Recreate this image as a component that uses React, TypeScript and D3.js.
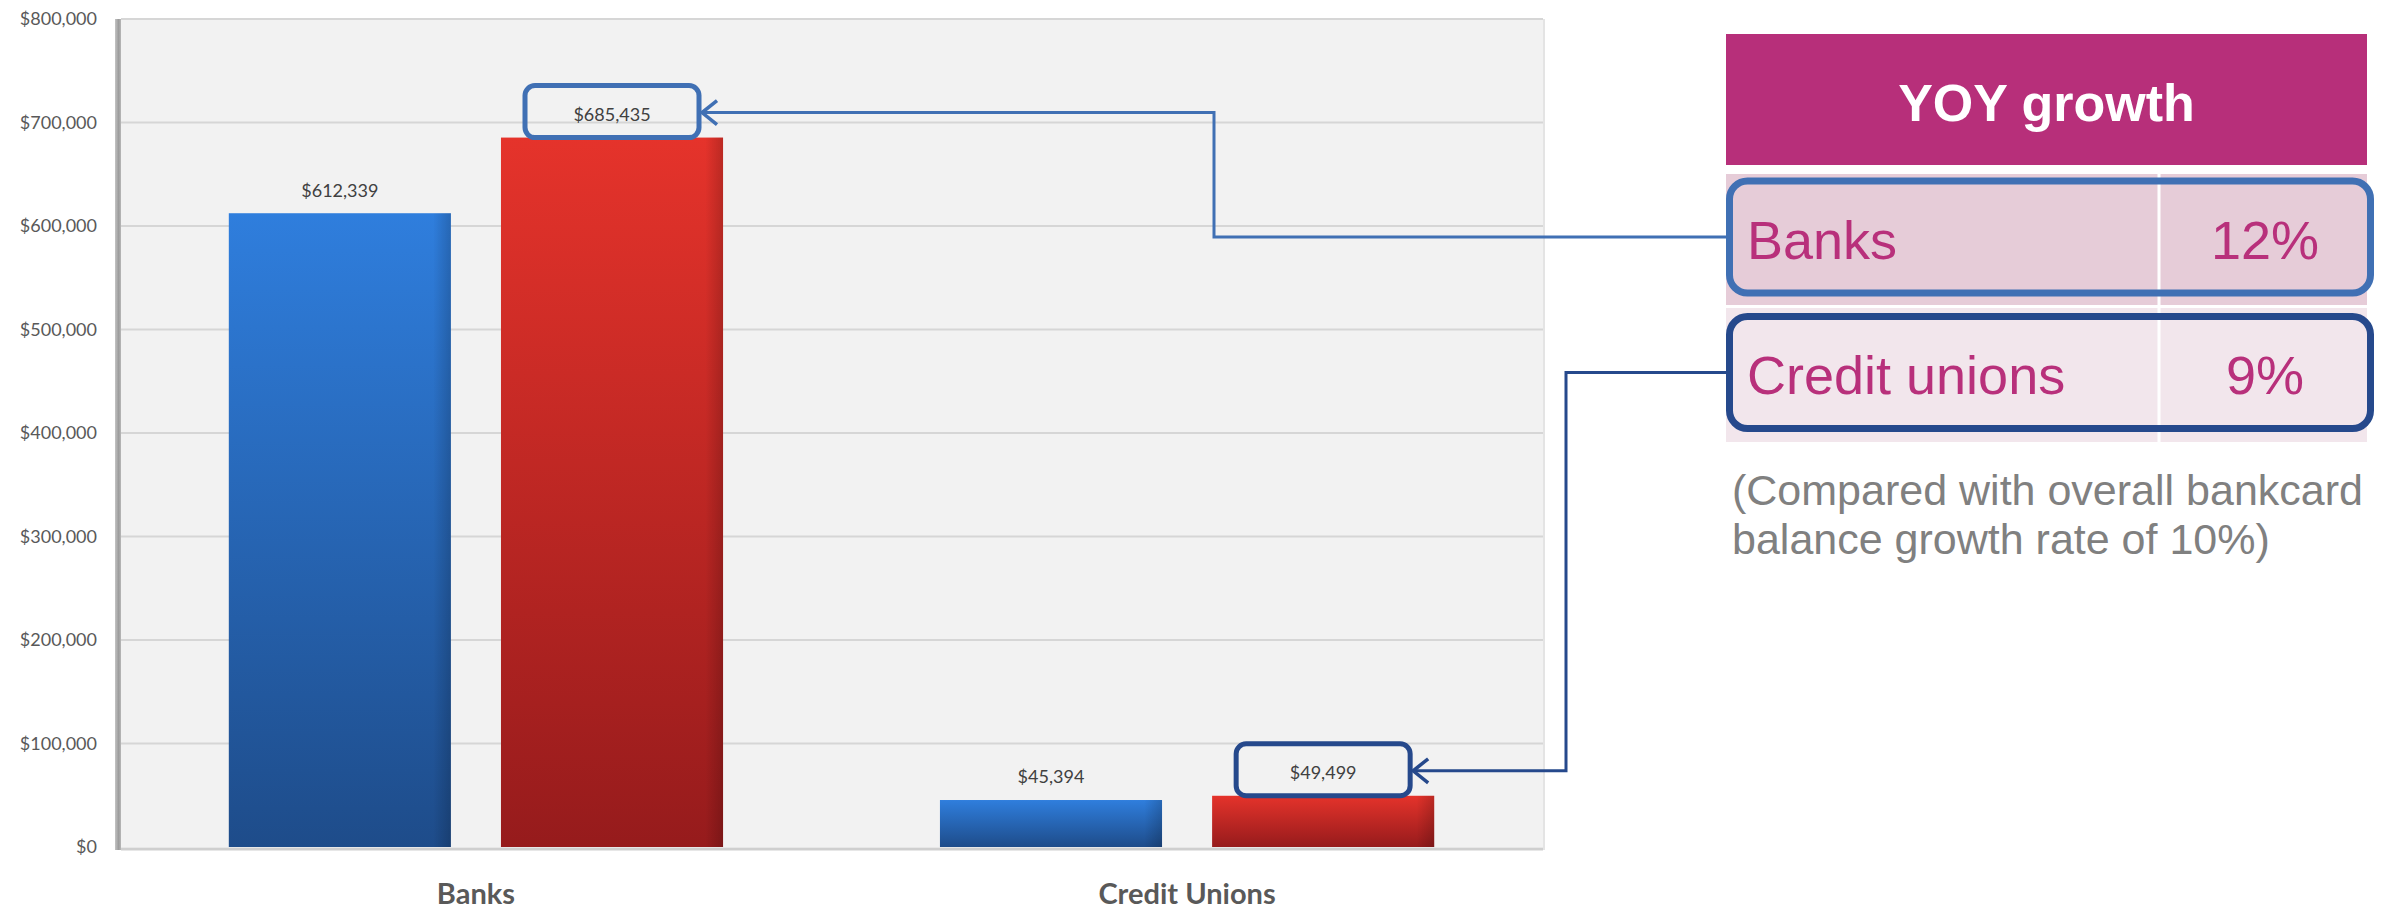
import React from 'react';
import * as d3 from 'd3';

// chart data
const categories = ['Banks', 'Credit Unions'];
const seriesNames = ['Prior year', 'Current year'];
const priorValues = [612339, 45394];
const currentValues = [685435, 49499];
const yTickValues = [0, 100000, 200000, 300000, 400000, 500000, 600000, 700000, 800000];

// side table
const growthLabels = ['Banks', 'Credit unions'];
const growthRates = ['12%', '9%'];
const footnoteLines = ['(Compared with overall bankcard', 'balance growth rate of 10%)'];

const W = 2387;
const H = 909;
const plotLeft = 121;
const plotRight = 1543;
const plotTop = 19;
const plotBottom = 847;

const calloutColors = ['#4070B4', '#26498C'];
const elbowX = [1214, 1566];

const tableLeft = 1726;
const tableRight = 2367;
const colSplit = 2159;
const headerTop = 34;
const headerBottom = 165;
const rowTops = [174, 308];
const rowBottoms = [305, 442];
const rowFills = ['#E6CCD8', '#F2E6EC'];
const magenta = '#B72F7A';

const App = () => {
  const x0 = d3.scaleBand<string>()
    .domain(categories)
    .range([plotLeft - 1, plotRight])
    .paddingInner(0.305)
    .paddingOuter(0.153);
  const x1 = d3.scaleBand<string>()
    .domain(seriesNames)
    .range([0, x0.bandwidth()])
    .paddingInner(0.184);
  const y = d3.scaleLinear().domain([0, 800000]).range([plotBottom, plotTop]);
  const fmt = (v: number) => '$' + d3.format(',')(v);

  const seriesValues = [priorValues, currentValues];
  const fills = ['url(#gradBlue)', 'url(#gradRed)'];

  const rowMid = (i: number) => (rowTops[i] + rowBottoms[i]) / 2 - 2.5;

  return (
    <svg width={W} height={H} style={{ position: 'absolute', left: 0, top: 0, background: '#fff' }}>
      <defs>
        <linearGradient id="gradBlue" x1="0" y1="0" x2="0" y2="1">
          <stop offset="0%" stopColor="#2F7EDD" />
          <stop offset="100%" stopColor="#1E4C8A" />
        </linearGradient>
        <linearGradient id="gradRed" x1="0" y1="0" x2="0" y2="1">
          <stop offset="0%" stopColor="#E5332B" />
          <stop offset="100%" stopColor="#961B1C" />
        </linearGradient>
        <linearGradient id="edgeShade" x1="0" y1="0" x2="1" y2="0">
          <stop offset="0%" stopColor="#000" stopOpacity="0" />
          <stop offset="92%" stopColor="#000" stopOpacity="0" />
          <stop offset="100%" stopColor="#000" stopOpacity="0.18" />
        </linearGradient>
        <linearGradient id="axisShade" x1="0" y1="0" x2="1" y2="0">
          <stop offset="0%" stopColor="#C4C4C4" />
          <stop offset="60%" stopColor="#9C9C9C" />
          <stop offset="100%" stopColor="#B8B8B8" />
        </linearGradient>
      </defs>

      {/* plot area */}
      <rect x={plotLeft} y={plotTop} width={plotRight - plotLeft} height={plotBottom - plotTop} fill="#F2F2F2" />
      {yTickValues.map((t) => (
        <g key={t}>
          {t > 0 && (
            <line x1={plotLeft} x2={plotRight} y1={y(t)} y2={y(t)} stroke="#D6D6D6" strokeWidth={2} />
          )}
          <text
            x={97}
            y={y(t)}
            dy="0.35em"
            textAnchor="end"
            fontFamily="Lato, 'Open Sans', sans-serif"
            fontSize={18}
            fill="#595959"
          >
            {fmt(t)}
          </text>
        </g>
      ))}
      <line x1={plotLeft} x2={plotRight} y1={plotBottom + 2} y2={plotBottom + 2} stroke="#CFCFCF" strokeWidth={3} />
      <rect x={115} y={plotTop} width={6} height={plotBottom - plotTop + 3} fill="url(#axisShade)" />
      <line x1={plotRight + 1} x2={plotRight + 1} y1={plotTop} y2={plotBottom + 3} stroke="#E4E4E4" strokeWidth={2} />

      {/* bars */}
      {categories.map((c, ci) =>
        seriesNames.map((s, si) => {
          const v = seriesValues[si][ci];
          const bx = (x0(c) ?? 0) + (x1(s) ?? 0);
          const bw = x1.bandwidth();
          return (
            <g key={c + s}>
              <rect x={bx} y={y(v)} width={bw} height={y(0) - y(v)} fill={fills[si]} />
              <rect x={bx} y={y(v)} width={bw} height={y(0) - y(v)} fill="url(#edgeShade)" />
              <text
                x={bx + bw / 2}
                y={y(v) - 23}
                dy="0.35em"
                textAnchor="middle"
                fontFamily="Lato, 'Open Sans', sans-serif"
                fontSize={18}
                fill="#404040"
              >
                {fmt(v)}
              </text>
            </g>
          );
        })
      )}

      {/* category labels */}
      {categories.map((c) => (
        <text
          key={c}
          x={(x0(c) ?? 0) + x0.bandwidth() / 2}
          y={904}
          textAnchor="middle"
          fontFamily="Lato, 'Open Sans', sans-serif"
          fontWeight="bold"
          fontSize={29}
          fill="#595959"
        >
          {c}
        </text>
      ))}

      {/* callouts: current-year label box -> table row */}
      {categories.map((c, ci) => {
        const v = currentValues[ci];
        const cx = (x0(c) ?? 0) + (x1(seriesNames[1]) ?? 0) + x1.bandwidth() / 2;
        const boxW = 174;
        const boxTop = y(v) - 52;
        const tipX = cx + boxW / 2 + 3;
        const ly = y(v) - 25;
        const col = calloutColors[ci];
        return (
          <g key={'callout' + c} fill="none" stroke={col}>
            <rect x={cx - boxW / 2} y={boxTop} width={boxW} height={52} rx={10} strokeWidth={5} />
            <path
              d={`M${tableLeft},${rowMid(ci)} H${elbowX[ci]} V${ly} H${tipX}`}
              strokeWidth={3}
            />
            <path
              d={`M${tipX + 15},${ly - 12} L${tipX},${ly} L${tipX + 15},${ly + 12}`}
              strokeWidth={3.5}
            />
          </g>
        );
      })}

      {/* YOY growth table */}
      <rect x={tableLeft} y={headerTop} width={tableRight - tableLeft} height={headerBottom - headerTop} fill={magenta} />
      <text
        x={(tableLeft + tableRight) / 2}
        y={121}
        textAnchor="middle"
        fontFamily="'Liberation Sans', Arial, sans-serif"
        fontWeight="bold"
        fontSize={52}
        fill="#fff"
      >
        YOY growth
      </text>
      {growthLabels.map((g, i) => (
        <g key={g}>
          <rect x={tableLeft} y={rowTops[i]} width={tableRight - tableLeft} height={rowBottoms[i] - rowTops[i]} fill={rowFills[i]} />
        </g>
      ))}
      <line x1={colSplit} x2={colSplit} y1={headerBottom} y2={rowBottoms[1]} stroke="#fff" strokeWidth={3} />
      {growthLabels.map((g, i) => (
        <g key={'t' + g}>
          <rect
            x={tableLeft + 3.5}
            y={rowMid(i) - 56}
            width={tableRight - tableLeft}
            height={112}
            rx={18}
            fill="none"
            stroke={calloutColors[i]}
            strokeWidth={7}
          />
          <text
            x={1747}
            y={rowMid(i) + 21.5}
            fontFamily="'Liberation Sans', Arial, sans-serif"
            fontSize={54}
            fill="#B8307B"
          >
            {g}
          </text>
          <text
            x={(colSplit + tableRight) / 2 + 2}
            y={rowMid(i) + 21.5}
            textAnchor="middle"
            fontFamily="'Liberation Sans', Arial, sans-serif"
            fontSize={54}
            fill="#B8307B"
          >
            {growthRates[i]}
          </text>
        </g>
      ))}
      {footnoteLines.map((l, i) => (
        <text
          key={l}
          x={1732}
          y={505 + i * 49}
          fontFamily="'Liberation Sans', Arial, sans-serif"
          fontSize={43}
          fill="#808080"
        >
          {l}
        </text>
      ))}
    </svg>
  );
};

export default App;
